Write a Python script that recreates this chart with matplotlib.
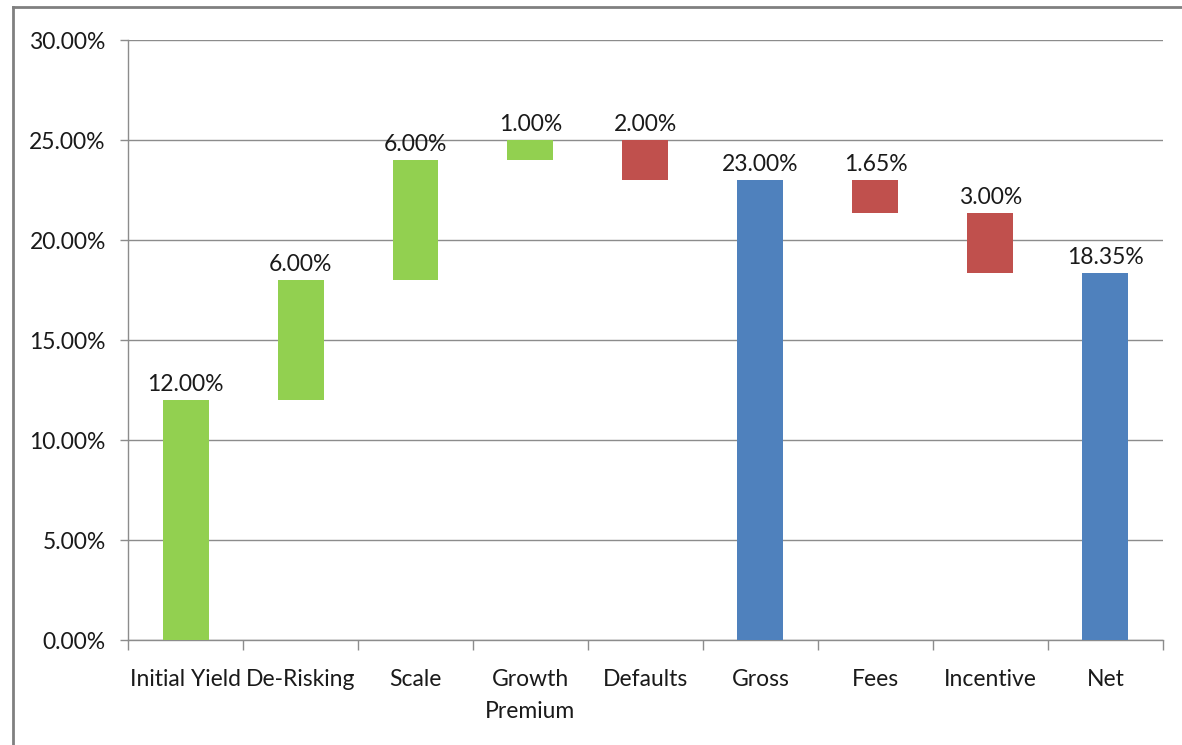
#!/usr/bin/env python3

# Waterfall chart: yield build-up from initial yield to net

import numpy as np
import matplotlib.pyplot as plt
from matplotlib.lines import Line2D
from matplotlib.ticker import FuncFormatter

categories=['Initial Yield','De-Risking','Scale','Growth\nPremium','Defaults',
            'Gross','Fees','Incentive','Net']
steps=[12.00,6.00,6.00,1.00,-2.00,None,-1.65,-3.00,None]   # None = total bar
y_ticks=[0,5,10,15,20,25,30]

c_up='#92D050'
c_down='#C0504D'
c_tot='#4F81BD'
c_grid='#8C8C8C'


def main():

    plt.rcParams['font.family']=['Lato','DejaVu Sans']
    fsz=16.5

    fig=plt.figure(figsize=(11.82,7.45),dpi=100)
    ax=fig.add_axes([0.1083,0.1409,0.9839-0.1083,0.9463-0.1409])

    x=np.arange(len(categories))
    run=0.0
    bottoms=[]
    heights=[]
    colors=[]
    labels=[]
    tops=[]
    for s in steps:
        if s is None:
            bottoms.append(0.0)
            heights.append(run)
            colors.append(c_tot)
            labels.append(run)
            tops.append(run)
        elif s>=0:
            bottoms.append(run)
            heights.append(s)
            colors.append(c_up)
            labels.append(s)
            run=run+s
            tops.append(run)
        else:
            bottoms.append(run+s)
            heights.append(-s)
            colors.append(c_down)
            labels.append(-s)
            tops.append(run)
            run=run+s

    ax.bar(x,heights,bottom=bottoms,width=0.4,color=colors,zorder=3)

    for xi,t,lb in zip(x,tops,labels):
        ax.annotate('%.2f%%' % lb,(xi,t),xytext=(0,3.5),textcoords='offset points',
                    ha='center',va='bottom',fontsize=fsz,color='#1a1a1a',zorder=4)

    ax.set_xlim(-0.5,len(categories)-0.5)
    ax.set_ylim(0,30)
    ax.set_yticks(y_ticks)
    ax.yaxis.set_major_formatter(FuncFormatter(lambda v,p: '%.2f%%' % v))
    ax.grid(axis='y',color=c_grid,linewidth=1.0,zorder=0)
    ax.set_axisbelow(True)

    # category labels centred, tick marks on category boundaries
    ax.set_xticks(x)
    ax.set_xticklabels(categories,fontsize=fsz,color='#1a1a1a',linespacing=1.65)
    ax.tick_params(axis='x',which='major',length=0,pad=21)
    ax.set_xticks(np.arange(len(categories)+1)-0.5,minor=True)
    ax.tick_params(axis='x',which='minor',length=7,width=1,color=c_grid)
    ax.tick_params(axis='y',length=6,width=1,color=c_grid,pad=10,
                   labelsize=fsz,labelcolor='#1a1a1a')

    for sp in ['top','right']:
        ax.spines[sp].set_visible(False)
    for sp in ['left','bottom']:
        ax.spines[sp].set_color(c_grid)
        ax.spines[sp].set_linewidth(1.0)

    # outer frame (left and top only)
    fig.add_artist(Line2D([13/1182,13/1182],[0,1-7/745],color='#808080',
                          linewidth=2.0,transform=fig.transFigure))
    fig.add_artist(Line2D([13/1182,1],[1-7/745,1-7/745],color='#808080',
                          linewidth=2.0,transform=fig.transFigure))

    plt.savefig('out.png',dpi=100)
    plt.close('all')


if __name__=='__main__':
    main()
